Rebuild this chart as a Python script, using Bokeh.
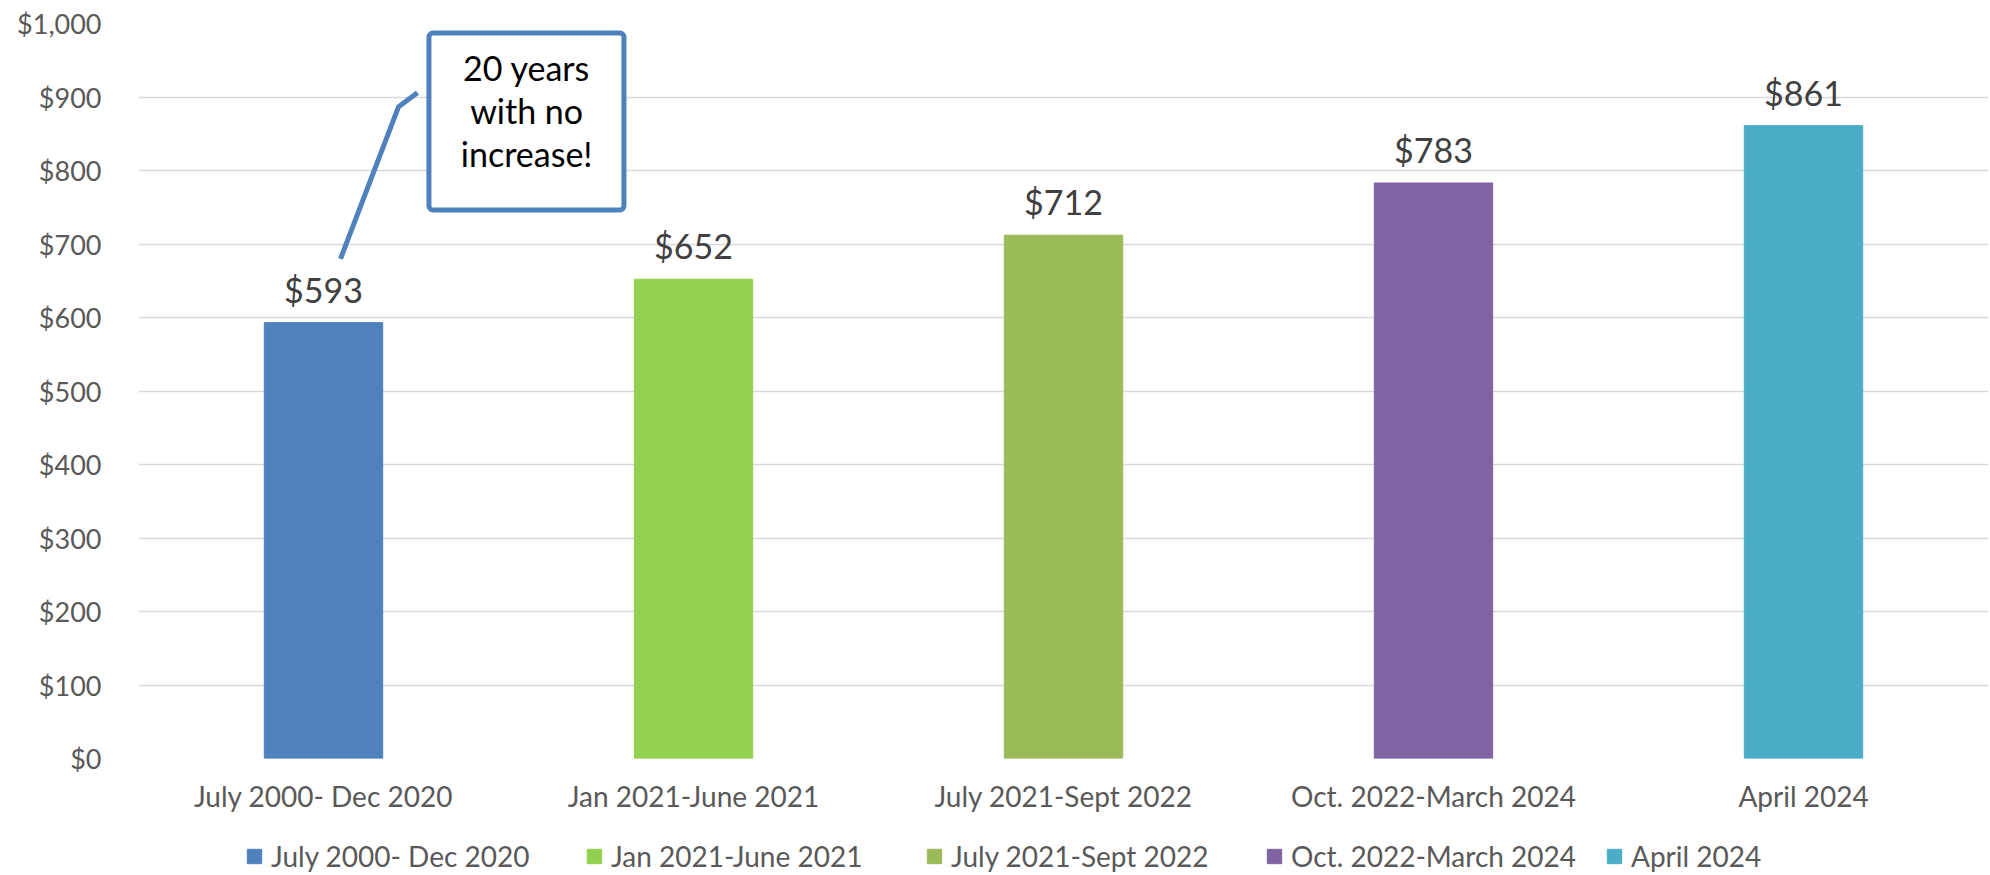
from bokeh.plotting import figure
from bokeh.layouts import column
from bokeh.models import (ColumnDataSource, Legend, LegendItem, LabelSet, Label,
                          BoxAnnotation, NumeralTickFormatter, FixedTicker, Range1d)
from bokeh.core.properties import value
from bokeh.embed import file_html
from bokeh.resources import INLINE

categories = ["July 2000- Dec 2020", "Jan 2021-June 2021", "July 2021-Sept 2022",
              "Oct. 2022-March 2024", "April 2024"]
values = [593, 652, 712, 783, 861]
colors = ["#4F81BD", "#92D050", "#9BBB59", "#8064A2", "#4BACC6"]
value_labels = ["$593", "$652", "$712", "$783", "$861"]
y_ticks = [0, 100, 200, 300, 400, 500, 600, 700, 800, 900, 1000]
callout_lines = ["20 years", "with no", "increase!"]

FONT = "Lato"

src = ColumnDataSource(dict(cat=categories, val=values, color=colors, label=value_labels))

p = figure(width=1988, height=820, x_range=categories, y_range=(0, 1000),
           output_backend="svg", toolbar_location=None,
           min_border_left=138, min_border_right=0, min_border_top=23, min_border_bottom=62)
p.outline_line_color = None
p.background_fill_color = "white"

bars = p.vbar(x="cat", top="val", width=0.32, color="color", source=src)

# axes
p.xgrid.grid_line_color = None
p.ygrid.ticker = FixedTicker(ticks=y_ticks)
p.ygrid.grid_line_color = "#D9D9D9"
p.ygrid.grid_line_width = 1.5
p.yaxis.ticker = FixedTicker(ticks=y_ticks)
p.yaxis.formatter = NumeralTickFormatter(format="$0,0")
for ax in (p.xaxis[0], p.yaxis[0]):
    ax.axis_line_color = None
    ax.major_tick_line_color = None
    ax.minor_tick_line_color = None
    ax.major_tick_out = 0
    ax.major_tick_in = 0
    ax.major_label_text_font = FONT
    ax.major_label_text_color = "#595959"
p.yaxis.major_label_text_font_size = "27px"
p.xaxis.major_label_text_font_size = "28px"
p.yaxis.major_label_standoff = 37
p.xaxis.major_label_standoff = 20

# data labels
labels = LabelSet(x="cat", y="val", text="label", source=src, y_offset=20,
                  text_align="center", text_baseline="alphabetic",
                  text_font=value(FONT), text_font_size="34px", text_color="#404040")
p.add_layout(labels)

# callout
p.line(x=[0.546, 0.703, 0.754], y=[679.9, 886.8, 905.8], line_color="#4F81BD",
       line_width=5)
box = BoxAnnotation(left=0.785, right=1.312, bottom=746.3, top=987.1,
                    fill_color="white", fill_alpha=1.0, line_color="#4F81BD",
                    line_alpha=1.0, line_width=5, border_radius=4)
p.add_layout(box)
for txt, yy in zip(callout_lines, [939.8, 881.3, 822.8]):
    p.add_layout(Label(x=1.049, y=yy, text=txt, text_align="center",
                       text_baseline="middle", text_font=FONT,
                       text_font_size="34px", text_color="#000000"))

# legend strip (separate figure below the chart)
leg_fig = figure(width=1988, height=53, x_range=Range1d(0, 1), y_range=Range1d(0, 1),
                 x_axis_type=None, y_axis_type=None, output_backend="svg",
                 toolbar_location=None, min_border=0)
leg_fig.outline_line_color = None
leg_fig.grid.visible = False
leg_src = ColumnDataSource(dict(cat=categories, color=colors,
                                x=[-10] * len(categories), top=[-9] * len(categories)))
leg_bars = leg_fig.vbar(x="x", top="top", bottom=-10, width=0.5, color="color", source=leg_src)
items = [LegendItem(label=c, renderers=[leg_bars], index=i) for i, c in enumerate(categories)]
legend = Legend(items=items, orientation="horizontal", location=(107, 0),
                glyph_width=18, glyph_height=18, label_standoff=8, label_width=314,
                label_height=18, spacing=0, padding=0, margin=0,
                label_text_font=FONT, label_text_font_size="28px",
                label_text_color="#595959",
                background_fill_alpha=0, border_line_alpha=0)
leg_fig.add_layout(legend, "center")

layout = column(p, leg_fig, spacing=0)
open("out.html", "w").write(file_html(layout, INLINE))
